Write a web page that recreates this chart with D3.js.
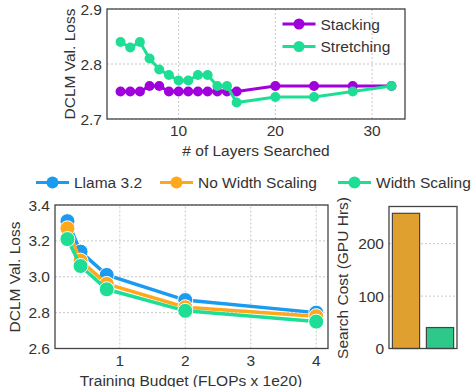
<!DOCTYPE html>
<html>
<head>
<meta charset="utf-8">
<script src="https://cdn.jsdelivr.net/npm/d3@7"></script>
<style>
  body { margin: 0; background: #fff; }
  text { font-family: "Liberation Sans", Arial, sans-serif; fill: #333; }
</style>
</head>
<body>
<svg id="chart" width="476" height="387"></svg>
<script>
// top panel: layers searched
const layers = [4, 5, 6, 7, 8, 9, 10, 11, 12, 13, 14, 15, 16, 20, 24, 28, 32];
const stacking = [2.75, 2.75, 2.75, 2.76, 2.76, 2.75, 2.75, 2.75, 2.75, 2.75, 2.75, 2.75, 2.75, 2.76, 2.76, 2.76, 2.76];
const stretching = [2.84, 2.83, 2.84, 2.81, 2.79, 2.78, 2.77, 2.77, 2.78, 2.78, 2.76, 2.76, 2.73, 2.74, 2.74, 2.75, 2.76];
const topXTicks = [10, 20, 30];
const topYTicks = [2.7, 2.8, 2.9];

// bottom left: training budget
const budget = [0.2, 0.4, 0.8, 2, 4];
const llama = [3.31, 3.14, 3.01, 2.87, 2.80];
const noWidth = [3.27, 3.09, 2.96, 2.83, 2.78];
const withWidth = [3.21, 3.06, 2.93, 2.81, 2.75];
const budgetTicks = [1, 2, 3, 4];
const lossTicks = [2.6, 2.8, 3.0, 3.2, 3.4];

// bottom right: search cost
const costNames = ["No Width Scaling", "Width Scaling"];
const costValues = [258, 40];
const costTicks = [0, 100, 200];

const svg = d3.select("#chart"),
  frameColor = "#444",
  gridColor = "#c8c8c8",
  fontSize = "15.5px";

function panel(x, y, yTicks, xTicks, fmtY, fmtX) {
  const g = svg.append("g");
  const [x0, x1] = x.range(), [y0, y1] = y.range();
  if (xTicks) {
    g.selectAll(".gx").data(xTicks).enter().append("line")
      .attr("x1", d => x(d)).attr("x2", d => x(d))
      .attr("y1", y0).attr("y2", y1)
      .attr("stroke", gridColor).attr("stroke-dasharray", "2,2");
    g.selectAll(".tx").data(xTicks).enter().append("text")
      .attr("x", d => x(d)).attr("y", y0 + 17)
      .attr("text-anchor", "middle").style("font-size", fontSize)
      .text(fmtX);
  }
  g.selectAll(".gy").data(yTicks).enter().append("line")
    .attr("x1", x0).attr("x2", x1)
    .attr("y1", d => y(d)).attr("y2", d => y(d))
    .attr("stroke", gridColor).attr("stroke-dasharray", "2,2");
  g.selectAll(".ty").data(yTicks).enter().append("text")
    .attr("x", x0 - 5).attr("y", d => y(d) + 5.5)
    .attr("text-anchor", "end").style("font-size", fontSize)
    .text(fmtY);
  return g;
}

function frame(x0, x1, y0, y1) {
  svg.append("rect")
    .attr("x", x0).attr("y", y1)
    .attr("width", x1 - x0).attr("height", y0 - y1)
    .attr("fill", "none").attr("stroke", frameColor).attr("stroke-width", 1.3);
}

function series(g, x, y, xs, ys, color, r, lw, edge) {
  const pts = xs.map((d, i) => [d, ys[i]]);
  g.append("path")
    .attr("d", d3.line().x(d => x(d[0])).y(d => y(d[1]))(pts))
    .attr("fill", "none").attr("stroke", color).attr("stroke-width", lw);
  g.selectAll(null).data(pts).enter().append("circle")
    .attr("cx", d => x(d[0])).attr("cy", d => y(d[1]))
    .attr("r", r).attr("fill", color)
    .attr("stroke", edge ? "#fff" : "none").attr("stroke-width", 1);
}

function legendItem(x, y, color, label, r) {
  svg.append("line")
    .attr("x1", x).attr("x2", x + 33).attr("y1", y).attr("y2", y)
    .attr("stroke", color).attr("stroke-width", 3);
  svg.append("circle").attr("cx", x + 16.5).attr("cy", y).attr("r", r).attr("fill", color);
  svg.append("text").attr("x", x + 38).attr("y", y + 5.5)
    .style("font-size", fontSize).text(label);
}

// ---- top panel
const tx = d3.scaleLinear().domain([2.6, 33.4]).range([107, 405]);
const ty = d3.scaleLinear().domain([2.7, 2.9]).range([119, 9]);
const gt = panel(tx, ty, topYTicks, topXTicks, d3.format(".1f"), d3.format("d"));
series(gt, tx, ty, layers, stacking, "#a000dc", 5, 3, false);
series(gt, tx, ty, layers, stretching, "#1ede95", 5, 3, false);
frame(107, 405, 119, 9);
svg.append("text").attr("x", 256).attr("y", 156)
  .attr("text-anchor", "middle").style("font-size", fontSize).text("# of Layers Searched");
svg.append("text").attr("transform", "translate(75,64) rotate(-90)")
  .attr("text-anchor", "middle").style("font-size", fontSize).text("DCLM Val. Loss");
legendItem(282.5, 24, "#a000dc", "Stacking", 5.5);
legendItem(282.5, 46.5, "#1ede95", "Stretching", 5.5);

// ---- bottom left panel
const bx = d3.scaleLinear().domain([0.01, 4.18]).range([55, 328]);
const by = d3.scaleLinear().domain([2.6, 3.4]).range([348.5, 205]);
const gb = panel(bx, by, lossTicks, budgetTicks, d3.format(".1f"), d3.format("d"));
series(gb, bx, by, budget, llama, "#1a9af0", 7.5, 3.5, true);
series(gb, bx, by, budget, noWidth, "#ffa81c", 7.5, 3.5, true);
series(gb, bx, by, budget, withWidth, "#1ede95", 7.5, 3.5, true);
frame(55, 328, 348.5, 205);
svg.append("text").attr("x", 191).attr("y", 386)
  .attr("text-anchor", "middle").style("font-size", fontSize).text("Training Budget (FLOPs x 1e20)");
svg.append("text").attr("transform", "translate(20,277) rotate(-90)")
  .attr("text-anchor", "middle").style("font-size", fontSize).text("DCLM Val. Loss");
legendItem(36, 182.5, "#1a9af0", "Llama 3.2", 6);
legendItem(160, 182.5, "#ffa81c", "No Width Scaling", 6);
legendItem(338, 182.5, "#1ede95", "Width Scaling", 6);

// ---- bottom right bars
const cx = d3.scaleBand().domain(costNames).range([389, 457]).paddingInner(0.2).paddingOuter(0.1);
const cy = d3.scaleLinear().domain([0, 271]).range([348.5, 206.5]);
const gc = panel(cx, cy, costTicks, null, d3.format("d"), null);
gc.selectAll("rect").data(costNames).enter().append("rect")
  .attr("x", d => cx(d)).attr("width", cx.bandwidth())
  .attr("y", (d, i) => cy(costValues[i]))
  .attr("height", (d, i) => cy(0) - cy(costValues[i]))
  .attr("fill", (d, i) => ["#e0a030", "#2ec98a"][i])
  .attr("stroke", "#444").attr("stroke-width", 1.2);
frame(389, 457, 348.5, 206.5);
svg.append("text").attr("transform", "translate(348,278) rotate(-90)")
  .attr("text-anchor", "middle").style("font-size", fontSize).text("Search Cost (GPU Hrs)");
</script>
</body>
</html>
